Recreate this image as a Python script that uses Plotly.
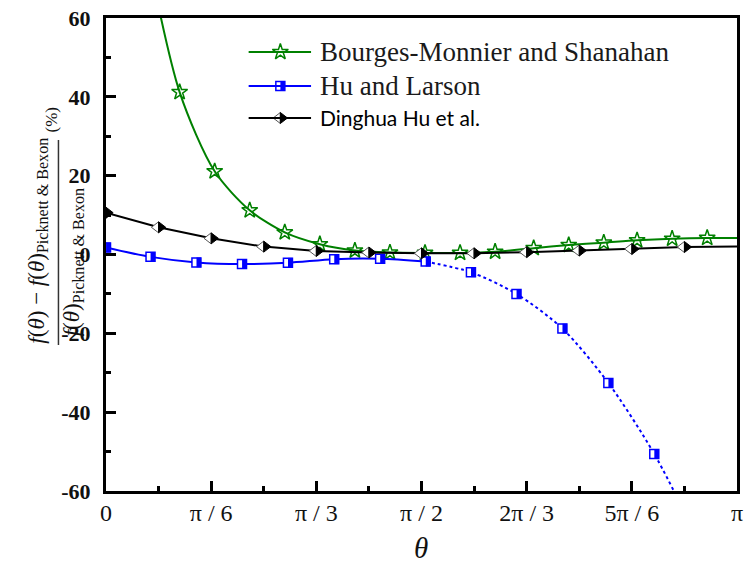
import plotly.graph_objects as go

W, H = 749, 566
ML, MR, MT, MB = 106, 6, 18, 75
PW, PH = W - ML - MR, H - MT - MB

# ---------------- data ----------------
theta_tickvals = [0, 30, 60, 90, 120, 150, 180]
theta_ticktext = ["0", "π / 6", "π / 3", "π / 2", "2π / 3", "5π / 6", "π"]
y_tickvals = [-60, -40, -20, 0, 20, 40, 60]
y_ticktext = ["-60", "-40", "-20", "0", "20", "40", "60"]

bm_theta = [11, 21, 31, 41, 51, 61, 71, 81, 91, 101, 111, 122, 132, 142, 151.5, 161.5, 171.5, 180]
bm_val = [80, 41.2, 21.1, 11.2, 5.6, 2.6, 1.0, 0.5, 0.4, 0.4, 0.7, 1.6, 2.4, 3.0, 3.6, 4.0, 4.2, 4.2]
bm_marker_count = 17

hl_theta = [0, 12.7, 25.8, 38.8, 51.9, 65.1, 78.2, 91.2, 104.1, 117.1, 130.2, 143.3, 156.4, 169.5]
hl_val = [1.8, -0.6, -2.0, -2.4, -2.1, -1.2, -1.1, -1.8, -4.5, -10.0, -18.8, -32.6, -50.6, -73.5]
hl_solid_until = 91.2

dh_theta = [0, 15, 30, 45, 60, 75, 90, 105, 120, 135, 150, 165, 180]
dh_val = [10.6, 6.9, 4.1, 2.0, 0.9, 0.5, 0.3, 0.3, 0.6, 1.0, 1.4, 1.9, 2.0]
dh_marker_count = 12

names = ["Bourges-Monnier and Shanahan", "Hu and Larson", "Dinghua Hu et al."]

GREEN = "#008000"
BLUE = "#0000ff"
BLACK = "#000000"
SERIF = "Liberation Serif"


def px_x(p):
    return (p - ML) / PW


def px_y(p):
    return (H - MB - p) / PH


# marker styles (shared by plot and legend)
STAR = dict(symbol="star-open", size=12, color=GREEN, line=dict(width=1.5, color=GREEN))
SQ_OPEN = dict(symbol="square", size=9, color="white", line=dict(width=1.5, color=BLUE))
SQ_HALF = dict(symbol="line-ew", size=7, angle=270, standoff=2.3, line=dict(width=4.5, color=BLUE))
DI_LEFT = dict(symbol="triangle-down", size=9.5, angle=90, standoff=2.4, color="white",
               line=dict(width=1, color="#555555"))
DI_RIGHT = dict(symbol="triangle-down", size=9.5, angle=270, standoff=2.4, color=BLACK,
                line=dict(width=1, color=BLACK))

fig = go.Figure()

# Bourges-Monnier and Shanahan
fig.add_trace(go.Scatter(x=bm_theta, y=bm_val, mode="lines",
                         line=dict(color=GREEN, width=2, shape="spline", smoothing=0.8),
                         hoverinfo="skip"))
fig.add_trace(go.Scatter(x=bm_theta[:bm_marker_count], y=bm_val[:bm_marker_count], mode="markers",
                         marker=STAR))

# Hu and Larson
solid_x = [t for t in hl_theta if t <= hl_solid_until]
solid_y = [v for t, v in zip(hl_theta, hl_val) if t <= hl_solid_until]
dot_x = [t for t in hl_theta if t >= hl_solid_until]
dot_y = [v for t, v in zip(hl_theta, hl_val) if t >= hl_solid_until]
fig.add_trace(go.Scatter(x=solid_x, y=solid_y, mode="lines",
                         line=dict(color=BLUE, width=2, shape="spline", smoothing=0.8),
                         hoverinfo="skip"))
fig.add_trace(go.Scatter(x=dot_x, y=dot_y, mode="lines",
                         line=dict(color=BLUE, width=2, shape="spline", smoothing=0.8, dash="dot"),
                         hoverinfo="skip"))
fig.add_trace(go.Scatter(x=hl_theta, y=hl_val, mode="markers", marker=SQ_OPEN))
fig.add_trace(go.Scatter(x=hl_theta, y=hl_val, mode="markers", marker=SQ_HALF))

# Dinghua Hu et al.
fig.add_trace(go.Scatter(x=dh_theta, y=dh_val, mode="lines",
                         line=dict(color=BLACK, width=2), hoverinfo="skip"))
fig.add_trace(go.Scatter(x=dh_theta[:dh_marker_count], y=dh_val[:dh_marker_count], mode="markers",
                         marker=DI_LEFT))
fig.add_trace(go.Scatter(x=dh_theta[:dh_marker_count], y=dh_val[:dh_marker_count], mode="markers",
                         marker=DI_RIGHT))

# ---------------- manual legend ----------------
leg_rows = [52, 86, 118]
leg_x0, leg_x1, leg_xm, leg_tx = 250, 313, 282, 320
leg_colors = [GREEN, BLUE, BLACK]
leg_markers = [[STAR], [SQ_OPEN, SQ_HALF], [DI_LEFT, DI_RIGHT]]
for row, col, mks in zip(leg_rows, leg_colors, leg_markers):
    fig.add_shape(type="line", xref="paper", yref="paper",
                  x0=px_x(leg_x0), x1=px_x(leg_x1), y0=px_y(row), y1=px_y(row),
                  line=dict(color=col, width=2))
    for mk in mks:
        fig.add_trace(go.Scatter(x=[px_x(leg_xm)], y=[px_y(row)], xaxis="x2", yaxis="y2",
                                 mode="markers", marker=mk))

annotations = []
leg_fonts = [dict(family=SERIF, size=27, color="#1a1a1a"),
             dict(family=SERIF, size=27, color="#1a1a1a"),
             dict(family="Lato", size=21, color="#000000")]
for row, name, fnt in zip(leg_rows, names, leg_fonts):
    annotations.append(dict(text=name, xref="paper", yref="paper", x=px_x(leg_tx), y=px_y(row),
                            xanchor="left", yanchor="middle", showarrow=False, font=fnt))

# axis title theta
annotations.append(dict(text="<i>θ</i>", xref="paper", yref="paper", x=px_x(424), y=px_y(548),
                        xanchor="center", yanchor="middle", showarrow=False,
                        font=dict(family=SERIF, size=29, color="#111111")))

# y-axis title as a fraction
annotations.append(dict(text="<i>f</i>(<i>θ</i>) − <i>f</i>(<i>θ</i>)<sub>Picknett &amp; Bexon</sub>",
                        xref="paper", yref="paper", x=px_x(37), y=px_y(241), textangle=-90,
                        xanchor="center", yanchor="middle", showarrow=False,
                        font=dict(family=SERIF, size=23, color="#111111")))
annotations.append(dict(text="<i>f</i>(<i>θ</i>)<sub>Picknett &amp; Bexon</sub>",
                        xref="paper", yref="paper", x=px_x(73), y=px_y(262), textangle=-90,
                        xanchor="center", yanchor="middle", showarrow=False,
                        font=dict(family=SERIF, size=23, color="#111111")))
annotations.append(dict(text="(%)",
                        xref="paper", yref="paper", x=px_x(50), y=px_y(120), textangle=-90,
                        xanchor="center", yanchor="middle", showarrow=False,
                        font=dict(family=SERIF, size=17, color="#111111")))
fig.add_shape(type="line", xref="paper", yref="paper",
              x0=px_x(58), x1=px_x(58), y0=px_y(140), y1=px_y(345),
              line=dict(color="#333333", width=1.5))

fig.update_layout(
    width=W, height=H,
    margin=dict(l=ML, r=MR, t=MT, b=MB),
    paper_bgcolor="white", plot_bgcolor="white",
    font=dict(family=SERIF),
    showlegend=False,
    annotations=annotations,
    xaxis=dict(range=[0, 180], tickmode="array", tickvals=theta_tickvals, ticktext=theta_ticktext,
               showgrid=False, zeroline=False, showline=True, linecolor="black", linewidth=3, mirror=True,
               ticks="inside", ticklen=10, tickwidth=2.5, tickcolor="black",
               minor=dict(tickmode="linear", tick0=0, dtick=15, ticks="inside", ticklen=5, tickwidth=2.5,
                          tickcolor="black", showgrid=False),
               tickfont=dict(family=SERIF, size=24, color="#111111"), ticklabelstandoff=-2),
    yaxis=dict(range=[-60, 60], tickmode="array", tickvals=y_tickvals,
               ticktext=["<b>" + t + "</b>" for t in y_ticktext],
               showgrid=False, zeroline=False, showline=True, linecolor="black", linewidth=3, mirror=True,
               ticks="inside", ticklen=10, tickwidth=2.5, tickcolor="black",
               minor=dict(tickmode="linear", tick0=0, dtick=10, ticks="inside", ticklen=5, tickwidth=2.5,
                          tickcolor="black", showgrid=False),
               tickfont=dict(family=SERIF, size=22, color="#111111"), ticklabelstandoff=8),
    xaxis2=dict(range=[0, 1], overlaying="x", visible=False, fixedrange=True),
    yaxis2=dict(range=[0, 1], overlaying="y", visible=False, fixedrange=True, anchor="x2"),
)

fig.write_html("out.html")
